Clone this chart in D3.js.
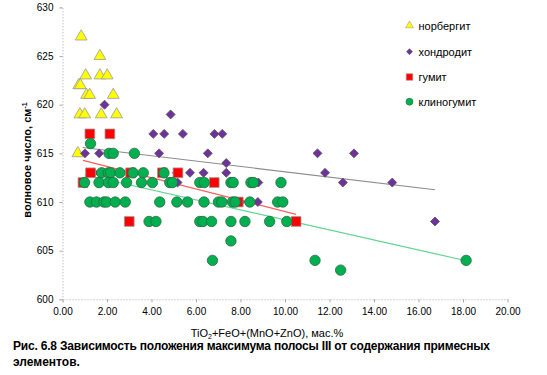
<!DOCTYPE html>
<html>
	<head>
		<meta charset="utf-8">
		<title>Полоса III</title>
		<style>
			body, html { margin: 0; padding: 0; background: #fff; }
			svg { display: block; font-family: "Liberation Sans", Arial, sans-serif; }
		</style>
	</head>
	<body>
		<svg id="svg" width="547" height="375"></svg>
		<script src="https://d3js.org/d3.v7.min.js"></script>
		<script>
			// series names (legend order)
			const seriesNames = ['норбергит', 'хондродит', 'гумит', 'клиногумит']

			// [TiO2+FeO+(MnO+ZnO), wavenumber]
			const norbergite = [
				[0.84, 627], [1.68, 625], [1.04, 623], [1.68, 623], [2.01, 623],
				[0.73, 622], [0.80, 622], [1.08, 621], [1.22, 621], [2.28, 621],
				[0.78, 619], [1.00, 619], [1.74, 619], [2.43, 619], [0.69, 615]
			]
			const chondrodite = [
				[1.89, 620], [4.86, 619],
				[4.08, 617], [4.57, 617], [5.41, 617], [6.83, 617], [7.18, 617],
				[1.01, 615], [1.65, 615], [4.34, 615], [6.53, 615], [11.46, 615], [13.10, 615],
				[7.36, 614],
				[1.41, 613], [5.14, 613], [5.73, 613], [6.34, 613], [7.36, 613], [11.80, 613],
				[0.91, 612], [1.98, 612], [5.17, 612], [8.80, 612], [12.60, 612], [14.82, 612],
				[7.99, 610], [8.78, 610],
				[16.74, 608]
			]
			const humite = [
				[1.23, 617], [2.13, 617],
				[1.26, 613], [3.06, 613], [4.49, 613], [5.19, 613],
				[0.92, 612], [6.82, 612],
				[7.90, 610],
				[3.00, 608], [10.50, 608]
			]
			const clinohumite = [
				[1.26, 616],
				[2.09, 615], [2.28, 615], [3.23, 615],
				[1.76, 613], [2.06, 613], [2.16, 613], [2.58, 613], [3.17, 613], [3.63, 613], [4.56, 613],
				[0.99, 612], [1.64, 612], [2.06, 612], [2.28, 612], [2.88, 612], [3.55, 612], [4.04, 612],
				[4.82, 612], [4.94, 612], [6.17, 612], [6.37, 612], [7.57, 612], [7.67, 612], [8.47, 612],
				[8.58, 612], [9.82, 612],
				[1.23, 610], [1.53, 610], [1.86, 610], [1.98, 610], [2.37, 610], [2.82, 610], [4.37, 610],
				[5.14, 610], [5.62, 610], [6.36, 610], [7.01, 610], [7.16, 610], [7.64, 610], [7.76, 610],
				[8.42, 610], [9.67, 610], [9.90, 610],
				[3.89, 608], [4.20, 608], [6.17, 608], [6.31, 608], [6.70, 608], [7.57, 608], [8.20, 608],
				[9.31, 608], [10.08, 608],
				[7.57, 606],
				[6.74, 604], [11.35, 604], [18.14, 604],
				[12.50, 603]
			]

			const xTicks = d3.range(0, 20.01, 2)
			const yTicks = d3.range(600, 630.01, 5)

			const svg = d3.select('#svg')

			const x = d3.scaleLinear().domain([0, 20]).range([62.5, 507.5])
			const y = d3.scaleLinear().domain([600, 630]).range([299.3, 7.4])

			// axes (dotted grey, like the original)
			const xAxis = svg.append('g')
				.attr('transform', `translate(0, ${y(600)})`)
				.call(d3.axisBottom(x).tickValues(xTicks).tickFormat(d3.format('.2f')).tickSize(3).tickPadding(6))
			const yAxis = svg.append('g')
				.attr('transform', `translate(${x(0)}, 0)`)
				.call(d3.axisLeft(y).tickValues(yTicks).tickSize(3).tickPadding(6))
			for (const ax of [xAxis, yAxis]) {
				ax.select('.domain').attr('stroke', '#a8a8a8').attr('stroke-dasharray', '1,2')
				ax.selectAll('.tick line').attr('stroke', '#a8a8a8')
				ax.selectAll('.tick text').attr('fill', '#000').style('font-size', '10px')
					.style('font-family', '"Liberation Sans", Arial, sans-serif')
			}

			// axis titles
			const yt = svg.append('text')
				.attr('transform', `translate(31, 160) rotate(-90)`)
				.attr('text-anchor', 'middle')
				.style('font-size', '11px').style('font-weight', 'bold')
			yt.append('tspan').text('волновое число, см')
			yt.append('tspan').text('-1').attr('dy', -4).style('font-size', '7px')

			const xt = svg.append('text')
				.attr('x', 267).attr('y', 337)
				.attr('text-anchor', 'middle')
				.style('font-size', '11px')
			xt.append('tspan').text('TiO')
			xt.append('tspan').text('2').attr('dy', 2).style('font-size', '7px')
			xt.append('tspan').text('+FeO+(MnO+ZnO), мас.%').attr('dy', -2)

			// linear trend lines (least squares, drawn over each series' x range)
			function trend(data) {
				const n = data.length
				const mx = d3.mean(data, d => d[0])
				const my = d3.mean(data, d => d[1])
				const b = d3.sum(data, d => (d[0] - mx) * (d[1] - my)) / d3.sum(data, d => (d[0] - mx) ** 2)
				const a = my - b * mx
				const [x0, x1] = d3.extent(data, d => d[0])
				return [[x0, a + b * x0], [x1, a + b * x1]]
			}
			const line = d3.line().x(d => x(d[0])).y(d => y(d[1]))
			const trends = [
				{ data: chondrodite, color: '#8c8c8c' },
				{ data: humite, color: '#ff5c5c' },
				{ data: clinohumite, color: '#5fd68e' }
			]
			svg.append('g').selectAll('path')
				.data(trends)
				.join('path')
				.attr('d', d => line(trend(d.data)))
				.attr('fill', 'none')
				.attr('stroke', d => d.color)
				.attr('stroke-width', 1.2)

			// marker styles
			const styles = [
				{ type: d3.symbolTriangle, size: 60, fill: '#ffff00', stroke: '#9a9a9a', rot: 0 },
				{ type: d3.symbolSquare, size: 40, fill: '#7030a0', stroke: '#555', rot: 45 },
				{ type: d3.symbolSquare, size: 95, fill: '#ff0000', stroke: '#999', rot: 0 },
				{ type: d3.symbolCircle, size: 85, fill: '#00b050', stroke: '#2a6a40', rot: 0 }
			]
			const allSeries = [norbergite, chondrodite, humite, clinohumite]

			allSeries.forEach((data, i) => {
				const s = styles[i]
				svg.append('g').selectAll('path')
					.data(data)
					.join('path')
					.attr('d', d3.symbol().type(s.type).size(s.size))
					.attr('transform', d => `translate(${x(d[0])}, ${y(d[1])}) rotate(${s.rot})`)
					.attr('fill', s.fill)
					.attr('stroke', s.stroke)
					.attr('stroke-width', 0.8)
			})

			// legend
			const legend = svg.append('g')
			const legendY = [25.5, 51.7, 77, 101.7]
			seriesNames.forEach((name, i) => {
				const s = styles[i]
				legend.append('path')
					.attr('d', d3.symbol().type(s.type).size(s.size * 0.45))
					.attr('transform', `translate(409.5, ${legendY[i]}) rotate(${s.rot})`)
					.attr('fill', s.fill)
					.attr('stroke', s.stroke)
					.attr('stroke-width', 0.6)
				legend.append('text')
					.attr('x', 418.5).attr('y', legendY[i] + 4)
					.style('font-size', '11px')
					.text(name)
			})

			// caption
			svg.append('text')
				.attr('x', 13).attr('y', 349.5)
				.attr('textLength', 477).attr('lengthAdjust', 'spacing')
				.style('font-size', '12px').style('font-weight', 'bold')
				.text('Рис. 6.8 Зависимость положения максимума полосы III от содержания примесных')
			svg.append('text')
				.attr('x', 13).attr('y', 366)
				.style('font-size', '12px').style('font-weight', 'bold')
				.text('элементов.')
		</script>
	</body>
</html>
